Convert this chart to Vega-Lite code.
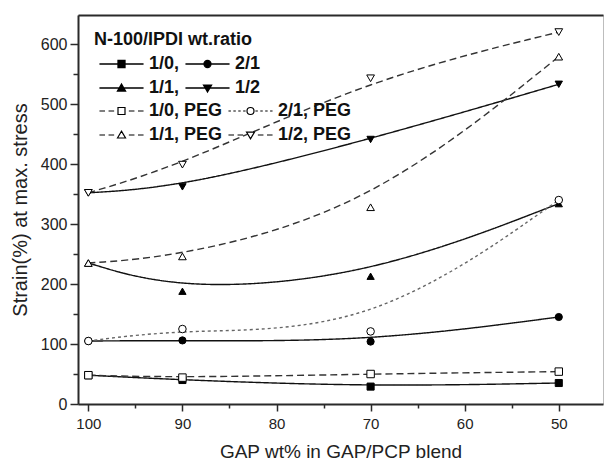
{
  "$schema": "https://vega.github.io/schema/vega-lite/v6.json",
  "autosize": {"type": "none"},
  "width": 525,
  "height": 389,
  "padding": {"left": 78, "top": 15, "right": 2, "bottom": 58},
  "background": "white",
  "config": {
    "view": {"stroke": "#bdbdbd", "strokeWidth": 1},
    "font": "Liberation Sans",
    "legend": {
      "layout": {
        "top-left": {"direction": "vertical", "anchor": "start", "margin": 5}
      }
    }
  },
  "data": {
    "values": [
      {"gap": 100, "strain": 48, "series": "1/0", "peg": "no"},
      {"gap": 90, "strain": 40, "series": "1/0", "peg": "no"},
      {"gap": 70, "strain": 29, "series": "1/0", "peg": "no"},
      {"gap": 50, "strain": 35, "series": "1/0", "peg": "no"},
      {"gap": 100, "strain": 105, "series": "2/1", "peg": "no"},
      {"gap": 90, "strain": 106, "series": "2/1", "peg": "no"},
      {"gap": 70, "strain": 104, "series": "2/1", "peg": "no"},
      {"gap": 50, "strain": 145, "series": "2/1", "peg": "no"},
      {"gap": 100, "strain": 235, "series": "1/1", "peg": "no"},
      {"gap": 90, "strain": 188, "series": "1/1", "peg": "no"},
      {"gap": 70, "strain": 213, "series": "1/1", "peg": "no"},
      {"gap": 50, "strain": 334, "series": "1/1", "peg": "no"},
      {"gap": 100, "strain": 352, "series": "1/2", "peg": "no"},
      {"gap": 90, "strain": 362, "series": "1/2", "peg": "no"},
      {"gap": 70, "strain": 441, "series": "1/2", "peg": "no"},
      {"gap": 50, "strain": 533, "series": "1/2", "peg": "no"},
      {"gap": 100, "strain": 48, "series": "1/0, PEG", "peg": "yes"},
      {"gap": 90, "strain": 44, "series": "1/0, PEG", "peg": "yes"},
      {"gap": 70, "strain": 50, "series": "1/0, PEG", "peg": "yes"},
      {"gap": 50, "strain": 54, "series": "1/0, PEG", "peg": "yes"},
      {"gap": 100, "strain": 105, "series": "2/1, PEG", "peg": "yes"},
      {"gap": 90, "strain": 125, "series": "2/1, PEG", "peg": "yes"},
      {"gap": 70, "strain": 121, "series": "2/1, PEG", "peg": "yes"},
      {"gap": 50, "strain": 340, "series": "2/1, PEG", "peg": "yes"},
      {"gap": 100, "strain": 235, "series": "1/1, PEG", "peg": "yes"},
      {"gap": 90, "strain": 246, "series": "1/1, PEG", "peg": "yes"},
      {"gap": 70, "strain": 328, "series": "1/1, PEG", "peg": "yes"},
      {"gap": 50, "strain": 579, "series": "1/1, PEG", "peg": "yes"},
      {"gap": 100, "strain": 352, "series": "1/2, PEG", "peg": "yes"},
      {"gap": 90, "strain": 399, "series": "1/2, PEG", "peg": "yes"},
      {"gap": 70, "strain": 543, "series": "1/2, PEG", "peg": "yes"},
      {"gap": 50, "strain": 620, "series": "1/2, PEG", "peg": "yes"}
    ]
  },
  "encoding": {
    "x": {
      "field": "gap", "type": "quantitative",
      "scale": {"domain": [45.3, 101.1], "reverse": true, "nice": false, "zero": false},
      "axis": null
    },
    "y": {
      "field": "strain", "type": "quantitative",
      "scale": {"domain": [0, 648.5], "nice": false, "zero": false},
      "axis": {
        "title": "Strain(%) at max. stress",
        "values": [0, 50, 100, 150, 200, 250, 300, 350, 400, 450, 500, 550, 600],
        "labelExpr": "datum.value % 100 == 0 ? datum.label : ''",
        "tickSize": {"condition": {"test": "datum.value % 100 != 0", "value": 5}, "value": 8},
        "grid": false,
        "domainColor": "#2a2a2a", "domainWidth": 2,
        "tickColor": "#2a2a2a", "tickWidth": 1.5,
        "labelFont": "Liberation Sans", "labelFontSize": 16, "labelColor": "#222", "labelPadding": 3,
        "titleFont": "Liberation Sans", "titleFontSize": 20, "titleFontWeight": "normal", "titleColor": "#222",
        "titlePadding": 10
      }
    }
  },
  "layer": [
    {
      "mark": {"type": "line", "interpolate": "basis", "strokeWidth": 1.4},
      "encoding": {
        "x": {
          "field": "gap", "type": "quantitative",
          "scale": {"domain": [45.3, 101.1], "reverse": true, "nice": false, "zero": false},
          "axis": {
            "title": "GAP wt% in GAP/PCP blend",
            "values": [100, 95, 90, 85, 80, 75, 70, 65, 60, 55, 50],
            "labelExpr": "datum.value % 10 == 0 ? datum.label : ''",
            "tickSize": {"condition": {"test": "datum.value % 10 != 0", "value": 4}, "value": 7},
            "grid": false,
            "domainColor": "#2a2a2a", "domainWidth": 2,
            "tickColor": "#2a2a2a", "tickWidth": 1.5,
            "labelFont": "Liberation Sans", "labelFontSize": 15, "labelColor": "#222", "labelPadding": 5,
            "titleFont": "Liberation Sans", "titleFontSize": 19, "titleFontWeight": "normal", "titleColor": "#222",
            "titlePadding": 11
          }
        },
        "detail": {"field": "series"},
        "color": {
          "field": "series", "type": "nominal", "legend": null,
          "scale": {
            "domain": ["1/0", "2/1", "1/1", "1/2", "1/0, PEG", "2/1, PEG", "1/1, PEG", "1/2, PEG"],
            "range": ["#111", "#111", "#111", "#111", "#333", "#666", "#333", "#333"]
          }
        },
        "strokeDash": {
          "field": "series", "type": "nominal", "legend": null,
          "scale": {
            "domain": ["1/0", "2/1", "1/1", "1/2", "1/0, PEG", "2/1, PEG", "1/1, PEG", "1/2, PEG"],
            "range": [[1, 0], [1, 0], [1, 0], [1, 0], [7, 4], [3, 3], [7, 4], [7, 4]]
          }
        }
      }
    },
    {
      "mark": {"type": "point", "filled": true, "stroke": "#000", "strokeWidth": 1, "opacity": 1},
      "encoding": {
        "shape": {
          "field": "series", "type": "nominal", "legend": null,
          "scale": {
            "domain": ["1/0", "2/1", "1/1", "1/2", "1/0, PEG", "2/1, PEG", "1/1, PEG", "1/2, PEG"],
            "range": ["square", "circle", "triangle-up", "triangle-down", "square", "circle", "triangle-up", "triangle-down"]
          }
        },
        "size": {
          "field": "series", "type": "nominal", "legend": null,
          "scale": {
            "domain": ["1/0", "2/1", "1/1", "1/2", "1/0, PEG", "2/1, PEG", "1/1, PEG", "1/2, PEG"],
            "range": [50, 60, 75, 75, 50, 60, 75, 75]
          }
        },
        "fill": {
          "field": "series", "type": "nominal", "legend": null,
          "scale": {
            "domain": ["1/0", "2/1", "1/1", "1/2", "1/0, PEG", "2/1, PEG", "1/1, PEG", "1/2, PEG"],
            "range": ["#000", "#000", "#000", "#000", "#fff", "#fff", "#fff", "#fff"]
          }
        }
      }
    },
    {
      "transform": [{"filter": "datum.peg == 'no'"}],
      "mark": {"type": "point", "filled": true, "size": 49, "opacity": 0},
      "encoding": {
        "x": {
          "field": "gap", "type": "quantitative",
          "scale": {"domain": [45.3, 101.1], "reverse": true, "nice": false, "zero": false},
          "axis": {"orient": "top", "labels": false, "ticks": false, "title": null, "grid": false, "domainColor": "#2a2a2a", "domainWidth": 2}
        },
        "shape": {
          "field": "series", "type": "nominal",
          "scale": {
            "domain": ["1/0", "2/1", "1/1", "1/2"],
            "range": [
              "M-6.3,0H6.3M-1,-1H1V1H-1Z",
              "M-6.3,0H6.3M-1,0A1,1,0,1,1,1,0A1,1,0,1,1,-1,0Z",
              "M-6.3,0H6.3M-1.15,0.85L0,-1.1L1.15,0.85Z",
              "M-6.3,0H6.3M-1.15,-0.85L0,1.1L1.15,-0.85Z"
            ]
          },
          "legend": {
            "title": "N-100/IPDI wt.ratio", "orient": "top-left", "direction": "horizontal", "columns": 2, "offset": 16, "padding": 0,
            "symbolSize": 49, "symbolStrokeColor": "#000", "symbolStrokeWidth": 1.3, "symbolOffset": 18.5, "labelOffset": 18.5,
            "labelExpr": "indexof(['1/0', '1/1'], datum.label) >= 0 ? datum.label + ',' : datum.label",
            "labelFont": "Liberation Sans", "labelFontSize": 18, "labelFontWeight": "bold", "labelColor": "#111", "labelLimit": 200,
            "titleFont": "Liberation Sans", "titleFontSize": 18, "titleFontWeight": "bold", "titleColor": "#111", "titlePadding": 6,
            "rowPadding": 6, "columnPadding": 0,
            "encode": {"symbols": {"update": {"opacity": {"value": 1}}}}
          }
        },
        "fill": {
          "field": "series", "type": "nominal",
          "scale": {"domain": ["1/0", "2/1", "1/1", "1/2"], "range": ["#000", "#000", "#000", "#000"]},
          "legend": {
            "title": "N-100/IPDI wt.ratio", "orient": "top-left", "direction": "horizontal", "columns": 2, "offset": 16, "padding": 0,
            "symbolSize": 49, "symbolStrokeColor": "#000", "symbolStrokeWidth": 1.3, "symbolOffset": 18.5, "labelOffset": 18.5,
            "labelExpr": "indexof(['1/0', '1/1'], datum.label) >= 0 ? datum.label + ',' : datum.label",
            "labelFont": "Liberation Sans", "labelFontSize": 18, "labelFontWeight": "bold", "labelColor": "#111", "labelLimit": 200,
            "titleFont": "Liberation Sans", "titleFontSize": 18, "titleFontWeight": "bold", "titleColor": "#111", "titlePadding": 6,
            "rowPadding": 6, "columnPadding": 0,
            "encode": {"symbols": {"update": {"opacity": {"value": 1}}}}
          }
        }
      }
    },
    {
      "transform": [{"filter": "datum.peg == 'yes'"}],
      "mark": {"type": "point", "filled": true, "size": 49, "opacity": 0},
      "encoding": {
        "shape": {
          "field": "series", "type": "nominal",
          "scale": {
            "domain": ["1/0, PEG", "2/1, PEG", "1/1, PEG", "1/2, PEG"],
            "range": [
              "M-6.3,0H-4.7M-3.7,0H-2.1M2.1,0H3.7M4.7,0H6.3M-1,-1H1V1H-1Z",
              "M-6.3,0H-5.6M-4.9,0H-4.2M-3.5,0H-2.8M-2.1,0H-1.4M1.4,0H2.1M2.8,0H3.5M4.2,0H4.9M5.6,0H6.3M-1,0A1,1,0,1,1,1,0A1,1,0,1,1,-1,0Z",
              "M-6.3,0H-4.7M-3.7,0H-2.1M2.1,0H3.7M4.7,0H6.3M-1.15,0.85L0,-1.1L1.15,0.85Z",
              "M-6.3,0H-4.7M-3.7,0H-2.1M2.1,0H3.7M4.7,0H6.3M-1.15,-0.85L0,1.1L1.15,-0.85Z"
            ]
          },
          "legend": {
            "title": null, "orient": "top-left", "direction": "horizontal", "columns": 2, "offset": 16, "padding": 0,
            "symbolSize": 49, "symbolStrokeColor": "#000", "symbolStrokeWidth": 1.2, "symbolOffset": 18.5, "labelOffset": 18.5,
            "labelFont": "Liberation Sans", "labelFontSize": 18, "labelFontWeight": "bold", "labelColor": "#111", "labelLimit": 200,
            "rowPadding": 6, "columnPadding": 0,
            "encode": {"symbols": {"update": {"opacity": {"value": 1}}}}
          }
        },
        "fill": {
          "field": "series", "type": "nominal",
          "scale": {"domain": ["1/0, PEG", "2/1, PEG", "1/1, PEG", "1/2, PEG"], "range": ["#fff", "#fff", "#fff", "#fff"]},
          "legend": {
            "title": null, "orient": "top-left", "direction": "horizontal", "columns": 2, "offset": 16, "padding": 0,
            "symbolSize": 49, "symbolStrokeColor": "#000", "symbolStrokeWidth": 1.2, "symbolOffset": 18.5, "labelOffset": 18.5,
            "labelFont": "Liberation Sans", "labelFontSize": 18, "labelFontWeight": "bold", "labelColor": "#111", "labelLimit": 200,
            "rowPadding": 6, "columnPadding": 0,
            "encode": {"symbols": {"update": {"opacity": {"value": 1}}}}
          }
        }
      }
    }
  ],
  "resolve": {
    "scale": {"shape": "independent", "fill": "independent", "size": "independent"},
    "axis": {"x": "independent"}
  }
}
